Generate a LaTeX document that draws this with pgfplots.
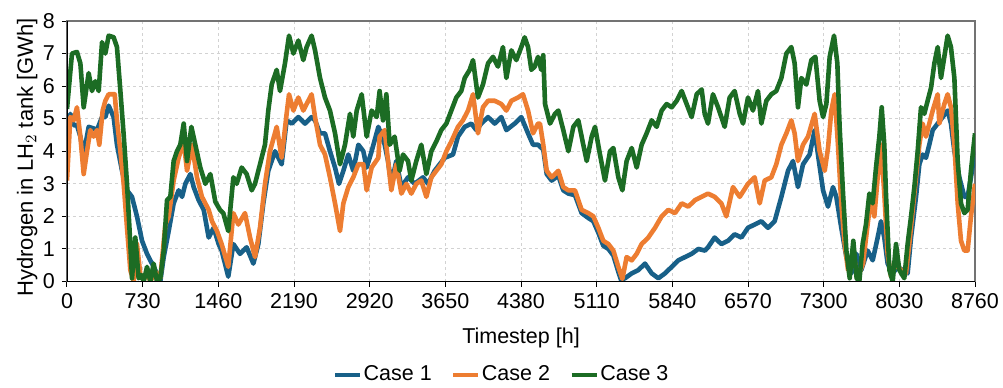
\documentclass[border=0pt]{standalone}
\usepackage{pgfplots}
\pgfplotsset{compat=1.18}
\usepackage{fontspec}
\setmainfont{Liberation Sans}
\definecolor{cblue}{RGB}{24,96,136}
\definecolor{corange}{RGB}{237,125,49}
\definecolor{cgreen}{RGB}{28,108,36}
\definecolor{gridgray}{RGB}{210,210,210}
\begin{document}
\begin{tikzpicture}
\begin{axis}[
  at={(0,0)}, anchor=south west,
  scale only axis, width=454pt, height=130.25pt,
  xmin=0, xmax=8760, ymin=0, ymax=8,
  xtick={0,730,...,8760}, ytick={0,1,...,8},
  /pgf/number format/assume math mode=true,
  /pgf/number format/1000 sep={},
  font=\fontsize{10.5}{12}\selectfont,
  tick label style={font=\fontsize{10.75}{12}\selectfont},
  tick align=outside, major tick length=2.5pt,
  tick style={black, line width=0.5pt},
  xtick pos=bottom, ytick pos=left,
  grid=major,
  major grid style={gridgray, dash pattern=on 1.5pt off 1.5pt, line width=0.5pt},
  axis line style={black!55, line width=0.6pt},
  xlabel={Timestep [h]},
  ylabel={Hydrogen in LH$_2$ tank [GWh]},
  xlabel style={font=\fontsize{10.75}{12}\selectfont, at={(rel axis cs:0.5,0)}, anchor=base, yshift=-30.75pt},
  ylabel style={font=\fontsize{11}{12}\selectfont, at={(rel axis cs:0,0.5)}, anchor=base, yshift=17pt, xshift=-3pt},
  legend columns=3,
  legend style={at={(rel axis cs:0.479,0)}, anchor=north, yshift=-38pt, draw=none, fill=none,
    font=\fontsize{10.75}{12}\selectfont,
    /tikz/every even column/.append style={column sep=9pt},
    /tikz/every odd column/.append style={column sep=0pt},
    nodes={inner xsep=1pt}},
  legend image code/.code={\draw[#1, line width=1.6pt] (0pt,0pt) -- (12.5pt,0pt);},
  every axis plot/.append style={line width=2.3pt, line join=round},
]
\addplot[cblue] coordinates {(0,3.9)(32,5.15)(64,4.8)(96,4.8)(129,4.45)(161,3.9)(209,4.75)(257,4.7)(289,4.65)(338,5.05)(370,5.05)(402,5.4)(450,5.05)(482,4.2)(531,3.4)(579,2.8)(627,2.6)(675,2.0)(724,1.25)(772,0.85)(820,0.55)(868,0.25)(900,0)(933,0.75)(981,1.55)(1029,2.4)(1077,2.8)(1110,2.6)(1142,3.0)(1190,3.3)(1222,2.9)(1270,2.5)(1319,2.2)(1367,1.35)(1415,1.65)(1463,1.15)(1492,0.95)(1556,0.15)(1605,1.15)(1669,0.85)(1733,1.05)(1798,0.55)(1846,1.15)(1894,2.4)(1942,3.4)(2007,4.0)(2071,3.6)(2119,4.95)(2168,4.85)(2232,5.05)(2296,4.85)(2360,5.05)(2393,4.95)(2441,4.55)(2489,4.55)(2537,4.0)(2586,3.5)(2624,3.0)(2666,3.4)(2714,3.9)(2762,3.4)(2811,4.2)(2859,4.0)(2891,3.5)(2939,4.0)(3004,4.75)(3016,4.65)(3065,4.2)(3097,3.7)(3129,3.0)(3177,3.7)(3226,2.9)(3290,3.2)(3354,3.0)(3435,3.2)(3483,3.0)(3547,3.4)(3644,3.8)(3724,3.9)(3772,4.45)(3837,4.75)(3901,4.85)(3949,4.65)(3997,4.85)(4062,5.05)(4126,4.85)(4190,5.05)(4239,4.65)(4319,4.85)(4383,5.05)(4448,4.55)(4496,4.2)(4544,4.2)(4595,4.05)(4628,3.3)(4676,3.1)(4740,3.25)(4788,2.8)(4837,2.7)(4901,2.65)(4965,2.1)(5030,1.95)(5078,1.85)(5126,1.5)(5174,1.1)(5223,1.0)(5271,0.8)(5319,0.3)(5345,0.05)(5383,0.1)(5448,0.25)(5512,0.35)(5576,0.55)(5641,0.25)(5705,0.1)(5769,0.25)(5834,0.45)(5898,0.65)(5962,0.75)(6026,0.85)(6091,1.0)(6155,0.95)(6184,1.05)(6248,1.35)(6313,1.15)(6377,1.25)(6441,1.45)(6506,1.35)(6570,1.65)(6634,1.75)(6699,1.85)(6763,1.65)(6827,1.85)(6892,2.6)(6956,3.4)(7004,3.7)(7052,2.9)(7101,3.6)(7165,3.9)(7213,4.65)(7245,3.9)(7294,2.8)(7342,2.3)(7390,2.9)(7422,2.6)(7470,1.65)(7519,0.75)(7567,0.25)(7615,0.85)(7663,0.35)(7724,0.95)(7773,0.65)(7821,1.35)(7853,1.85)(7885,1.35)(7917,0.55)(7966,0.25)(8014,0.45)(8062,0.35)(8110,0.25)(8143,1.35)(8191,2.6)(8223,3.6)(8255,3.9)(8287,3.8)(8319,4.2)(8352,4.65)(8400,4.85)(8448,5.05)(8496,5.25)(8528,4.85)(8561,4.0)(8609,3.2)(8657,2.6)(8689,2.6)(8721,3.2)(8760,4.0)};
\addlegendentry{Case 1}
\addplot[corange] coordinates {(0,3.1)(32,5.05)(64,4.95)(96,5.35)(129,4.45)(161,3.3)(193,4.0)(225,4.65)(257,4.45)(289,4.65)(312,4.2)(344,5.25)(370,5.55)(402,5.75)(460,5.75)(482,4.95)(515,4.0)(547,3.0)(579,1.65)(611,0.35)(643,0)(675,1.15)(708,0.2)(740,0.05)(772,0.3)(804,0)(852,0.3)(900,0.1)(949,1.75)(981,2.0)(1029,3.1)(1077,3.8)(1126,4.3)(1158,3.4)(1206,4.2)(1254,3.2)(1302,2.6)(1367,2.2)(1399,1.85)(1447,1.55)(1492,1.15)(1556,0.45)(1605,2.1)(1653,1.75)(1717,2.1)(1766,1.35)(1814,0.75)(1862,1.65)(1910,3.0)(1958,4.0)(2023,4.75)(2071,3.8)(2119,5.15)(2142,5.75)(2184,5.25)(2232,5.65)(2280,5.25)(2360,5.75)(2393,5.05)(2441,4.2)(2489,3.9)(2537,3.2)(2586,2.4)(2634,1.55)(2666,2.4)(2714,2.9)(2762,3.2)(2811,3.6)(2859,3.6)(2891,2.8)(2939,3.5)(3004,3.8)(3016,4.45)(3065,4.65)(3097,3.7)(3129,2.8)(3177,3.6)(3226,2.7)(3274,3.0)(3322,2.7)(3370,3.0)(3418,3.1)(3467,2.6)(3515,3.2)(3563,3.4)(3611,3.6)(3660,4.0)(3708,4.3)(3772,4.75)(3820,4.95)(3869,5.25)(3917,5.75)(3965,4.55)(4013,5.35)(4062,5.55)(4126,5.55)(4190,5.45)(4239,5.25)(4287,5.55)(4351,5.65)(4399,5.75)(4448,5.25)(4496,4.55)(4544,4.85)(4563,4.85)(4595,4.2)(4628,3.4)(4676,3.2)(4740,3.4)(4788,2.9)(4837,2.8)(4901,2.8)(4965,2.2)(5030,2.1)(5078,2.0)(5126,1.65)(5174,1.25)(5223,1.15)(5271,0.95)(5319,0.45)(5358,0.08)(5399,0.75)(5448,0.65)(5496,0.85)(5544,1.15)(5608,1.35)(5673,1.65)(5737,2.0)(5801,2.2)(5866,2.1)(5930,2.4)(5994,2.3)(6059,2.5)(6123,2.6)(6184,2.7)(6248,2.6)(6313,2.4)(6361,2.0)(6425,2.9)(6490,2.6)(6570,3.0)(6634,3.2)(6683,2.4)(6731,3.1)(6795,3.2)(6843,3.6)(6892,4.2)(6940,4.55)(6988,4.95)(7020,4.55)(7052,3.7)(7101,4.2)(7149,4.45)(7213,5.15)(7261,4.0)(7310,3.4)(7342,4.1)(7374,5.25)(7406,5.75)(7438,4.2)(7470,2.4)(7503,1.15)(7535,0.35)(7583,0.85)(7631,0.15)(7680,0.55)(7724,1.75)(7757,2.6)(7789,2.0)(7821,3.2)(7853,4.2)(7885,2.7)(7917,0.85)(7950,0.15)(7998,0.55)(8046,0.35)(8094,0.25)(8126,1.15)(8159,2.2)(8191,3.2)(8223,4.2)(8255,4.85)(8287,4.45)(8319,4.85)(8352,5.25)(8400,5.75)(8416,4.85)(8464,5.45)(8496,5.75)(8528,5.35)(8561,4.2)(8593,2.4)(8625,1.25)(8657,0.95)(8689,0.95)(8721,2.0)(8760,3.0)};
\addlegendentry{Case 2}
\addplot[cgreen] coordinates {(0,5.3)(48,7.0)(96,7.05)(129,6.7)(161,5.35)(209,6.4)(241,5.85)(273,6.15)(306,5.85)(338,7.35)(370,7.0)(402,7.55)(450,7.5)(482,7.2)(515,5.85)(547,4.5)(579,3.0)(611,1.15)(627,0.1)(659,1.35)(691,0.1)(717,0.2)(740,0)(772,0.45)(804,0)(836,0.55)(868,0)(900,0.1)(933,0.95)(965,2.5)(997,2.6)(1029,3.7)(1061,4.0)(1093,4.2)(1126,4.85)(1158,3.7)(1200,4.75)(1238,4.2)(1286,3.5)(1335,3.0)(1383,3.3)(1431,2.45)(1476,2.2)(1508,2.1)(1556,1.55)(1605,3.2)(1637,3.0)(1685,3.5)(1733,3.3)(1782,2.8)(1814,3.0)(1862,3.6)(1910,4.2)(1942,5.25)(1975,6.05)(2023,6.5)(2055,5.85)(2103,6.7)(2142,7.55)(2184,7.0)(2232,7.4)(2280,6.8)(2312,7.2)(2360,7.55)(2393,7.1)(2441,6.25)(2489,5.65)(2537,5.25)(2586,4.55)(2634,3.6)(2682,4.2)(2730,5.15)(2762,4.45)(2795,5.25)(2843,5.75)(2891,4.45)(2939,5.25)(2988,5.05)(3016,5.85)(3049,4.95)(3081,5.75)(3113,4.2)(3161,4.45)(3209,3.4)(3242,3.9)(3290,3.7)(3322,3.1)(3370,3.7)(3418,4.2)(3467,3.3)(3515,4.0)(3563,4.3)(3611,4.65)(3660,4.85)(3708,5.25)(3756,5.65)(3804,5.85)(3837,6.25)(3885,6.5)(3917,6.8)(3965,5.65)(4013,6.05)(4062,6.7)(4110,6.9)(4158,6.6)(4206,7.2)(4239,6.25)(4287,7.1)(4335,6.8)(4383,7.2)(4415,7.5)(4448,7.2)(4480,6.5)(4512,6.6)(4544,6.9)(4575,6.5)(4595,6.95)(4612,5.45)(4660,4.85)(4708,5.15)(4740,5.25)(4788,4.65)(4837,4.0)(4885,4.75)(4933,4.95)(4981,4.2)(5014,3.7)(5062,4.45)(5094,4.75)(5142,3.9)(5190,3.1)(5239,4.0)(5271,4.1)(5319,3.2)(5358,2.8)(5399,3.7)(5448,4.1)(5496,3.5)(5544,4.2)(5592,4.55)(5641,4.95)(5689,4.75)(5737,5.25)(5785,5.45)(5834,5.35)(5882,5.55)(5930,5.85)(5978,5.45)(6026,5.05)(6075,5.75)(6123,5.9)(6152,5.15)(6184,4.85)(6232,5.75)(6281,5.35)(6345,4.75)(6393,5.65)(6441,5.85)(6490,5.15)(6522,4.85)(6570,5.65)(6618,5.25)(6666,5.85)(6699,4.85)(6747,5.55)(6795,5.75)(6843,5.85)(6892,6.25)(6940,7.0)(6988,7.2)(7020,6.7)(7052,5.35)(7085,6.25)(7133,6.05)(7181,6.8)(7220,6.9)(7261,5.55)(7294,5.05)(7326,5.45)(7358,6.9)(7400,7.55)(7432,6.7)(7454,4.75)(7487,2.7)(7519,0.95)(7551,0.1)(7586,1.25)(7618,0.1)(7644,0)(7676,1.15)(7708,1.75)(7741,2.7)(7773,2.4)(7805,3.5)(7837,4.45)(7860,5.35)(7885,4.2)(7901,2.7)(7934,0.35)(7966,0)(7998,1.15)(8030,0.35)(8078,0.1)(8110,1.15)(8143,2.0)(8175,2.9)(8207,4.0)(8239,5.35)(8271,5.15)(8303,5.55)(8336,5.95)(8368,6.7)(8400,7.2)(8432,6.25)(8464,6.9)(8496,7.55)(8528,7.2)(8561,6.25)(8593,3.7)(8625,2.4)(8657,2.1)(8689,2.2)(8721,3.4)(8760,4.55)};
\addlegendentry{Case 3}
\draw[black, line width=0.8pt] (rel axis cs:0,1) -- (rel axis cs:0,0) -- (rel axis cs:1,0);
\end{axis}
\pgfresetboundingbox
\path (-33.5pt,-52.75pt) rectangle (468pt,140.75pt);
\end{tikzpicture}
\end{document}
